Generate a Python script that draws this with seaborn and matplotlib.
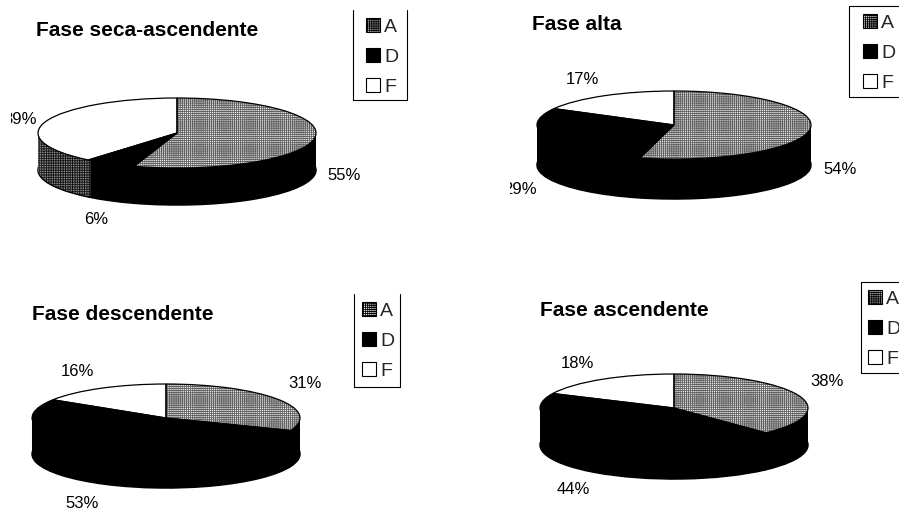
import matplotlib
matplotlib.use("Agg")
import matplotlib.pyplot as plt
import seaborn as sns
from matplotlib.lines import Line2D
from matplotlib.patches import Patch
from matplotlib.transforms import Bbox

sns.set_theme(style="white")
plt.rcParams["font.family"] = ["Liberation Sans", "DejaVu Sans"]
plt.rcParams["hatch.linewidth"] = 0.6

W, H = 899, 512

categories = ["A", "D", "F"]
titles = ["Fase seca-ascendente", "Fase alta", "Fase descendente", "Fase ascendente"]
seca_ascendente = [55, 6, 39]
alta = [54, 29, 17]
descendente = [31, 53, 16]
ascendente = [38, 44, 18]
series = [seca_ascendente, alta, descendente, ascendente]

# pixel layout: cx, cy, rx, ry, depth
pies = [(177, 133, 139, 35, 37), (674, 125, 137, 34, 40),
        (166, 418, 134, 34, 36), (674, 408, 134, 34, 37)]
title_pos = [(36, 31), (532, 24), (32, 315), (540, 311)]
# legend entries: x of the handles, y of the first row
legend_pos = [(366, 18), (863, 14), (362, 302), (868, 290)]
# legend frame: x0, y0, x1, y1, sides drawn
frames = [(353, 10, 407, 100, "lrb"), (849, 6, 899, 97, "ltb"),
          (354, 294, 400, 387, "lrb"), (861, 282, 899, 373, "ltb")]
# label pixel centres in A, D, F order
label_pos = [[(344, 175), (96, 220), (20, 120)],
             [(840, 169), (520, 190), (582, 79)],
             [(305, 384), (82, 504), (77, 372)],
             [(827, 382), (573, 490), (577, 364)]]
# the two left-hand labels are cut off in the scan
label_cut = {(0, 2): 11, (1, 1): 510}

top_colors = ["#f0f0f0", "black", "white"]
top_hatch = ["++++++++", "", ""]
wall_colors = ["black", "black", "#8c8c8c"]
wall_hatch = ["", "", "+++++++"]

fig = plt.figure(figsize=(W / 100, H / 100), dpi=100, facecolor="white")


def fx(x):
    return x / W


def fy(y):
    return 1 - y / H


for i, values in enumerate(series):
    cx, cy, rx, ry, depth = pies[i]
    pad = 3
    ax = fig.add_axes([fx(cx - rx - pad), fy(cy + ry + depth + pad),
                       (2 * rx + 2 * pad) / W, (2 * ry + depth + 2 * pad) / H])
    for k in range(depth, 0, -1):
        ax.pie(values, colors=wall_colors, hatch=wall_hatch, startangle=90, counterclock=False,
               center=(0, -k / ry), radius=1,
               wedgeprops=dict(edgecolor="black", linewidth=1.1 if k == depth else 0))
    # hatch in grey first, then the black outlines over it
    ax.pie(values, colors=top_colors, hatch=top_hatch, startangle=90, counterclock=False,
           center=(0, 0), radius=1, wedgeprops=dict(edgecolor="#606060", linewidth=0))
    ax.pie(values, startangle=90, counterclock=False, center=(0, 0), radius=1,
           wedgeprops=dict(edgecolor="black", linewidth=0.9, fill=False))
    ax.set_aspect("auto")
    ax.set_xlim(-1 - pad / rx, 1 + pad / rx)
    ax.set_ylim(-1 - (depth + pad) / ry, 1 + pad / ry)
    ax.axis("off")

    fig.text(fx(title_pos[i][0]), fy(title_pos[i][1]), titles[i], fontsize=15,
             fontweight="bold", color="black", ha="left", va="center")

    for j, v in enumerate(values):
        t = fig.text(fx(label_pos[i][j][0]), fy(label_pos[i][j][1]), f"{v}%", fontsize=12,
                     color="black", ha="center", va="center")
        if (i, j) in label_cut:
            t.set_clip_box(Bbox([[label_cut[(i, j)], 0], [W, H]]))
            t.set_clip_on(True)

    handles = [Patch(facecolor=top_colors[j], edgecolor="black", hatch=top_hatch[j] or None,
                     linewidth=0.8, label=categories[j]) for j in range(3)]
    lx, ly = legend_pos[i]
    fig.legend(handles=handles, loc="upper left", bbox_to_anchor=(fx(lx), fy(ly)),
               borderaxespad=0, fontsize=14, frameon=False, labelspacing=0.64,
               handlelength=0.72, handleheight=0.7, handletextpad=0.2, borderpad=0)

    x0, y0, x1, y1, sides = frames[i]
    segments = {"l": ([x0, x0], [y0, y1]), "r": ([x1, x1], [y0, y1]),
                "t": ([x0, x1], [y0, y0]), "b": ([x0, x1], [y1, y1])}
    for s in sides:
        xs, ys = segments[s]
        fig.add_artist(Line2D([fx(x) for x in xs], [fy(y) for y in ys], color="black",
                              linewidth=0.8, transform=fig.transFigure))

fig.savefig("out.png", dpi=100)
